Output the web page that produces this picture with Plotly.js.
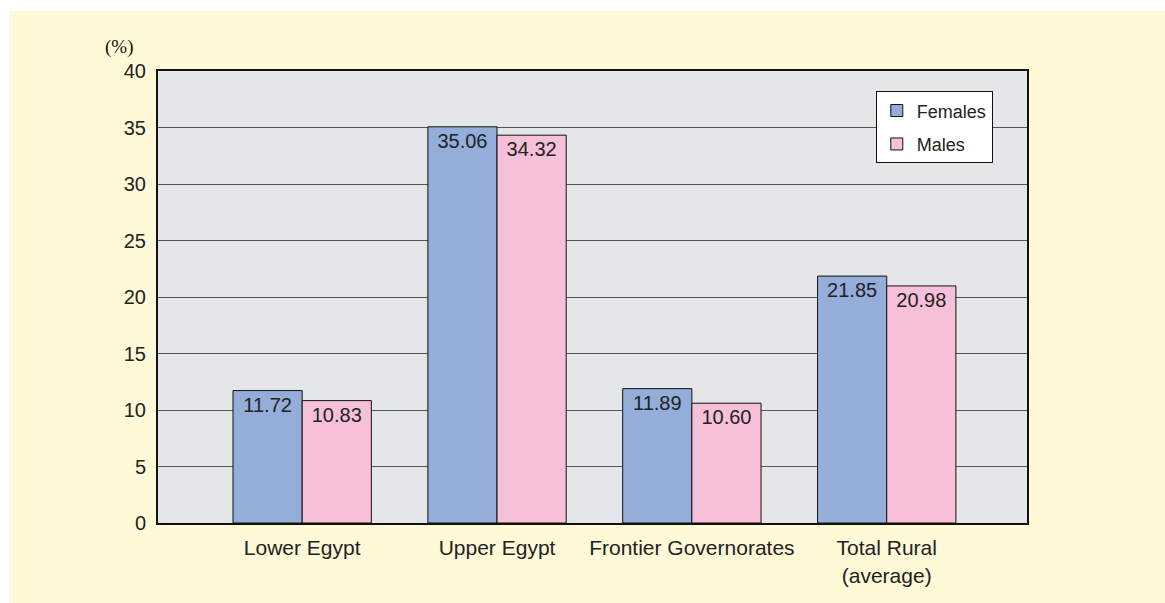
<!DOCTYPE html>
<html><head><meta charset="utf-8">
<script src="https://cdn.plot.ly/plotly-3.0.1.min.js"></script>
<style>
html,body{margin:0;padding:0;background:#ffffff;}
#chart{position:absolute;left:9px;top:11px;width:1156px;height:592px;}
</style></head>
<body><div id="chart"></div>
<script>
const categories = ["Lower Egypt", "Upper Egypt", "Frontier Governorates", "Total Rural<br>(average)"];
const females = [11.72, 35.06, 11.89, 21.85];
const males = [10.83, 34.32, 10.60, 20.98];
const yTicks = [0, 5, 10, 15, 20, 25, 30, 35, 40];

const textFont = {family: "Liberation Sans, Arial, sans-serif", size: 20, color: "#222"};
const traces = [
  {type: "bar", name: "Females", x: categories, y: females, legendgroup: "f",
   text: females.map(v => v.toFixed(2)), textposition: "inside", insidetextanchor: "end",
   textfont: textFont, constraintext: "none",
   marker: {color: "#95ADD9", line: {color: "#111", width: 1}}},
  {type: "bar", name: "Males", x: categories, y: males, legendgroup: "m",
   text: males.map(v => v.toFixed(2)), textposition: "inside", insidetextanchor: "end",
   textfont: textFont, constraintext: "none",
   marker: {color: "#F7C0D9", line: {color: "#111", width: 1}}}
];
const layout = {
  width: 1156, height: 592,
  paper_bgcolor: "#FFF9D8", plot_bgcolor: "#E5E6E8",
  margin: {l: 149, r: 138, t: 60, b: 80},
  barmode: "group", bargap: 0.29, bargroupgap: 0,
  font: {family: "Liberation Sans, Arial, sans-serif", size: 20, color: "#222"},
  showlegend: true,
  legend: {x: 0.826, y: 0.955, xanchor: "left", yanchor: "top", bgcolor: "#ffffff",
           bordercolor: "#111", borderwidth: 1, font: {size: 18, color: "#222"},
           traceorder: "grouped", tracegroupgap: 7, itemwidth: 30},
  xaxis: {range: [-0.74, 3.72], showgrid: false, ticks: "", tickfont: {size: 21},
          ticklabelstandoff: 5,
          showline: true, linecolor: "#111", linewidth: 2, mirror: true, fixedrange: true},
  yaxis: {range: [0, 40], tickvals: yTicks, ticktext: yTicks.map(String), showgrid: true,
          gridcolor: "#555", gridwidth: 1, zeroline: false, ticks: "", ticklen: 0,
          ticklabelstandoff: 6,
          tickfont: {size: 20}, showline: true, linecolor: "#111", linewidth: 2, mirror: true,
          fixedrange: true},
  annotations: [{text: "(%)", xref: "paper", yref: "paper", x: -0.045, y: 1.053,
                 xanchor: "center", yanchor: "middle", showarrow: false,
                 font: {family: "Liberation Serif, Times New Roman, serif", size: 19, color: "#111"}}]
};
Plotly.newPlot("chart", traces, layout, {displayModeBar: false, staticPlot: true});
</script></body></html>
